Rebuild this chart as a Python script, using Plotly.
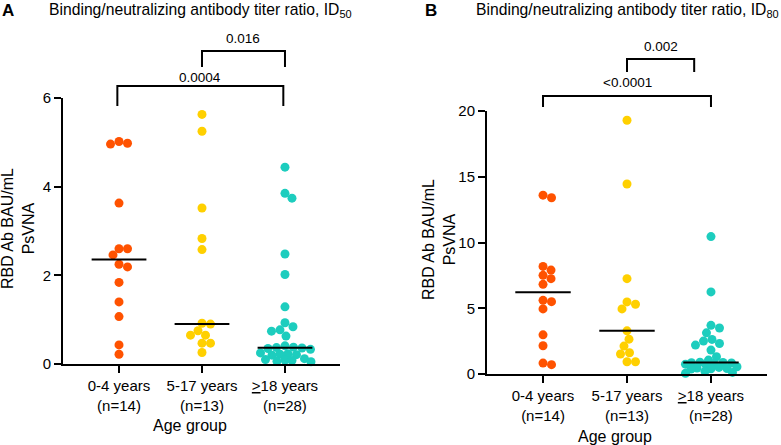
import numpy as np
import plotly.graph_objects as go

W, H = 781, 445
FONT = 'Liberation Sans, Arial, sans-serif'

GROUPS = ['0-4 years<br>(n=14)', '5-17 years<br>(n=13)', '<u>></u>18 years<br>(n=28)']
COLORS = ['#FF5200', '#FFD000', '#1DCDBE']

# panel A: ID50 ratios
a_young = [5.02, 4.98, 4.96, 3.63, 2.60, 2.60, 2.46, 2.25, 2.19, 1.84, 1.40, 1.07, 0.43, 0.22]
a_mid = [5.63, 5.25, 3.52, 2.83, 2.58, 0.92, 0.90, 0.75, 0.65, 0.65, 0.47, 0.47, 0.26]
a_adult = [4.44, 3.85, 3.74, 2.48, 2.02, 1.29, 0.93, 0.84, 0.77, 0.74, 0.63, 0.41, 0.38,
           0.37, 0.36, 0.35, 0.33, 0.25, 0.23, 0.22, 0.21, 0.20, 0.12, 0.10, 0.09, 0.08,
           0.06, 0.05]

# panel B: ID80 ratios
b_young = [13.6, 13.4, 8.18, 7.9, 7.5, 7.25, 6.82, 5.6, 5.5, 4.95, 2.98, 2.15, 0.83, 0.71]
b_mid = [19.3, 14.45, 7.25, 5.48, 5.3, 4.95, 3.28, 2.65, 2.12, 1.62, 1.52, 0.93, 0.93]
b_adult = [10.45, 6.24, 3.7, 3.5, 3.13, 2.63, 2.5, 2.32, 2.2, 1.82, 1.31, 1.06, 0.9, 0.88,
           0.86, 0.84, 0.8, 0.75, 0.7, 0.55, 0.5, 0.45, 0.42, 0.4, 0.38, 0.2, 0.12, 0.05]

a_ticks = [0, 2, 4, 6]
b_ticks = [0, 5, 10, 15, 20]

# pixel boxes of the two plot areas: left, right, top, bottom
PANELS = {
    'A': dict(box=(63, 340, 98, 364), xr=(-0.675, 2.663), yr=(0, 6), xa='x', ya='y'),
    'B': dict(box=(487, 767, 111, 374), xr=(-0.667, 2.667), yr=(0, 20), xa='x2', ya='y2'),
}


def px_x(p, v):
    l, r, _, _ = p['box']
    return l + (v - p['xr'][0]) / (p['xr'][1] - p['xr'][0]) * (r - l)


def px_y(p, v):
    _, _, t, b = p['box']
    return b - (v - p['yr'][0]) / (p['yr'][1] - p['yr'][0]) * (b - t)


def swarm(values, p, d=8.5, maxw=26.0):
    """simple beeswarm with a width cap, offsets in category units"""
    l, r, t, b = p['box']
    ppc = (r - l) / (p['xr'][1] - p['xr'][0])
    ppu = (b - t) / (p['yr'][1] - p['yr'][0])
    order = sorted(range(len(values)), key=lambda i: -values[i])
    placed = []
    offs = [0.0] * len(values)
    cands = [0.0]
    k = 1
    while k * 0.5 <= maxw:
        cands += [k * 0.5, -k * 0.5]
        k += 1
    for i in order:
        y = values[i] * ppu
        best, best_d = 0.0, -1.0
        for x in cands:
            md = min([np.hypot(x - qx, y - qy) for qx, qy in placed] or [99.0])
            if md >= d:
                best = x
                break
            if md > best_d + 0.5:
                best, best_d = x, md
        placed.append((best, y))
        offs[i] = best / ppc
    return offs


fig = go.Figure()

for name, groups in (('A', [a_young, a_mid, a_adult]), ('B', [b_young, b_mid, b_adult])):
    p = PANELS[name]
    for gi, vals in enumerate(groups):
        offs = swarm(vals, p)
        fig.add_trace(go.Scatter(x=[gi + o for o in offs], y=vals, mode='markers',
                                 marker=dict(size=9, color=COLORS[gi]),
                                 cliponaxis=False, showlegend=False,
                                 xaxis=p['xa'], yaxis=p['ya']))
        med = float(np.median(vals))
        fig.add_trace(go.Scatter(x=[gi - 0.33, gi + 0.33], y=[med, med], mode='lines',
                                 line=dict(color='black', width=2),
                                 showlegend=False, xaxis=p['xa'], yaxis=p['ya']))

axis_common = dict(showline=True, linecolor='black', linewidth=2, ticks='outside',
                   ticklen=7, tickwidth=2, tickcolor='black', showgrid=False,
                   zeroline=False, automargin=False,
                   tickfont=dict(family=FONT, size=15, color='black'))

for name, ticks in (('A', a_ticks), ('B', b_ticks)):
    p = PANELS[name]
    l, r, t, b = p['box']
    sx = '' if p['xa'] == 'x' else '2'
    fig.update_layout(**{
        'xaxis' + sx: dict(domain=[l / W, r / W], range=list(p['xr']), tickvals=[0, 1, 2],
                           ticktext=GROUPS, anchor=p['ya'], **axis_common),
        'yaxis' + sx: dict(domain=[1 - b / H, 1 - t / H], range=list(p['yr']), tickvals=ticks,
                           anchor=p['xa'], **axis_common),
    })

# significance brackets: (panel, x from, x to, top, leg bottom, label, label y)
brackets = [
    ('A', 1.0, 2.0, 7.06, 6.70, '0.016', 7.35),
    ('A', -0.02, 1.98, 6.27, 5.82, '0.0004', 6.47),
    ('B', 1.0, 1.80, 23.95, 22.97, '0.002', 24.87),
    ('B', 0.0, 2.0, 21.14, 20.30, '<0.0001', 22.2),
]
for name, x0, x1, top, bot, label, ly in brackets:
    p = PANELS[name]
    xs = [px_x(p, x0) / W, px_x(p, x1) / W]
    yt, yb = 1 - px_y(p, top) / H, 1 - px_y(p, bot) / H
    path = f'M{xs[0]},{yb} L{xs[0]},{yt} L{xs[1]},{yt} L{xs[1]},{yb}'
    fig.add_shape(type='path', path=path, xref='paper', yref='paper',
                  line=dict(color='black', width=2))
    fig.add_annotation(x=(xs[0] + xs[1]) / 2, y=1 - px_y(p, ly) / H, xref='paper', yref='paper',
                       text=label.replace('<', '&lt;'), showarrow=False,
                       xanchor='center', yanchor='middle',
                       font=dict(family=FONT, size=13.5, color='black'))

texts = [
    (0, 10, '<b>A</b>', 17, 0, 'left'),
    (47, 10, 'Binding/neutralizing antibody titer ratio, ID<sub>50</sub>', 15.7, 0, 'left'),
    (423, 10, '<b>B</b>', 17, 0, 'left'),
    (474, 10, 'Binding/neutralizing antibody titer ratio, ID<sub>80</sub>', 15.7, 0, 'left'),
    (18, 229, 'RBD Ab BAU/mL<br>PsVNA', 16, -90, 'center'),
    (439, 240, 'RBD Ab BAU/mL<br>PsVNA', 16, -90, 'center'),
    (190, 425, 'Age group', 16, 0, 'center'),
    (615, 436, 'Age group', 16, 0, 'center'),
]
for x, y, txt, size, ang, anchor in texts:
    fig.add_annotation(x=x / W, y=1 - y / H, xref='paper', yref='paper', text=txt,
                       showarrow=False, textangle=ang, xanchor=anchor, yanchor='middle',
                       font=dict(family=FONT, size=size, color='black'))

fig.update_layout(width=W, height=H, margin=dict(l=0, r=0, t=0, b=0),
                  plot_bgcolor='white', paper_bgcolor='white')

fig.write_html('out.html', config={'displayModeBar': False},
               post_script="document.body.style.margin='0';")
